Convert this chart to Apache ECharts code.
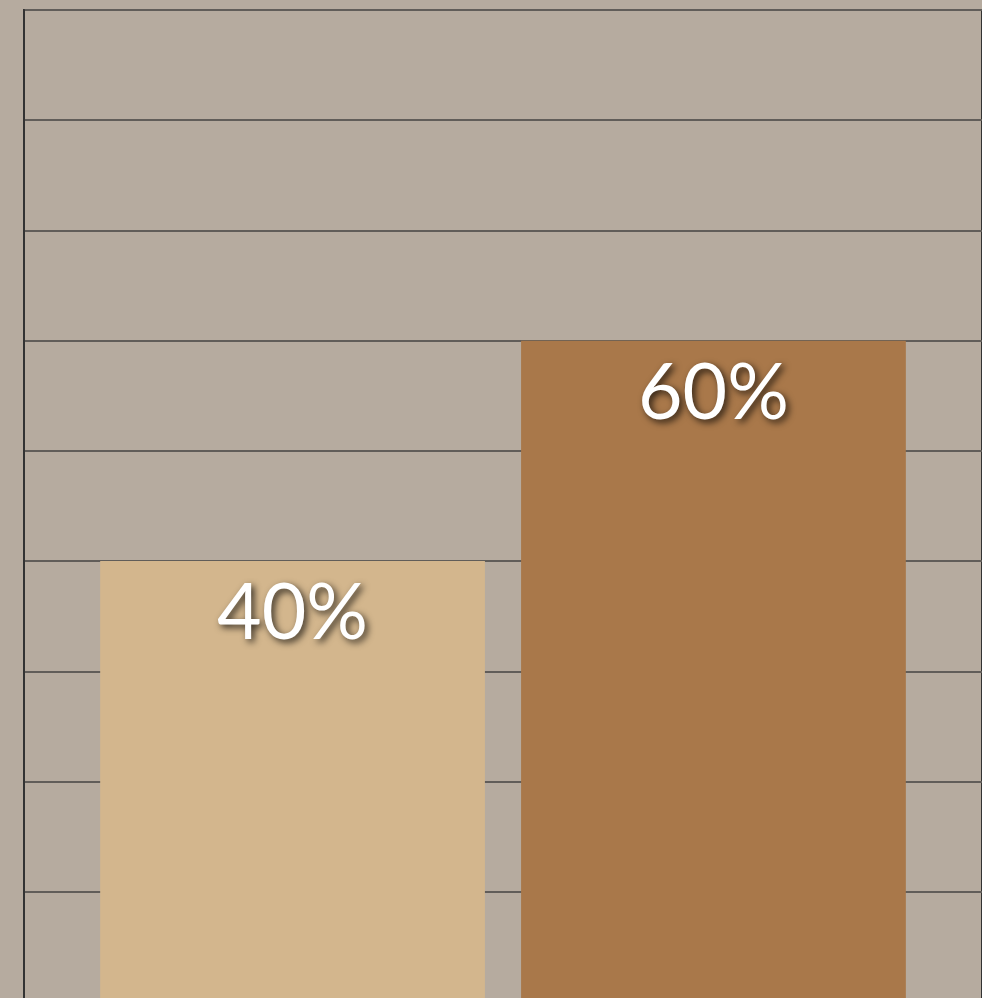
<!DOCTYPE html>
<html>
<head>
<meta charset="utf-8">
<script src="https://cdn.jsdelivr.net/npm/echarts@6/dist/echarts.min.js"></script>
<style>
  html, body { margin: 0; padding: 0; background: #b6ab9f; overflow: hidden; }
  /* the reference is cropped: the plot's baseline sits just below the window */
  #chart { width: 982px; height: 1006px; }
</style>
</head>
<body>
<div id="chart"></div>
<script>
// one category, two series side by side
var categories = [''];
var seriesNames = ['A', 'B'];
var seriesValues = [[40], [60]];
var seriesColors = ['#d3b68d', '#a9784a'];

var chart = echarts.init(document.getElementById('chart'));

var series = [];
for (var i = 0; i < seriesNames.length; i++) {
  series.push({
    name: seriesNames[i],
    type: 'bar',
    data: seriesValues[i],
    barGap: '9.4%',
    barCategoryGap: '15.9%',
    itemStyle: { color: seriesColors[i] },
    label: {
      show: true,
      position: 'insideTop',
      distance: 15,
      formatter: '{c}%',
      color: '#fff',
      fontFamily: 'Lato',
      fontSize: 77,
      textShadowColor: 'rgba(0,0,0,0.75)',
      textShadowBlur: 7,
      textShadowOffsetX: 3,
      textShadowOffsetY: 3
    }
  });
}

chart.setOption({
  backgroundColor: '#b6ab9f',
  animation: false,
  grid: {
    show: true,
    left: 24,
    right: 0,
    top: 10,
    bottom: 4,
    borderColor: '#333',
    borderWidth: 2,
    backgroundColor: 'transparent'
  },
  xAxis: {
    type: 'category',
    data: categories,
    axisTick: { show: false },
    axisLabel: { show: false },
    axisLine: { show: false }
  },
  yAxis: {
    type: 'value',
    min: 0,
    max: 90,
    interval: 10,
    axisLabel: { show: false },
    axisTick: { show: false },
    axisLine: { show: true, lineStyle: { color: '#333', width: 2 } },
    splitLine: { lineStyle: { color: '#615d59', width: 2 } }
  },
  series: series
});
</script>
</body>
</html>
